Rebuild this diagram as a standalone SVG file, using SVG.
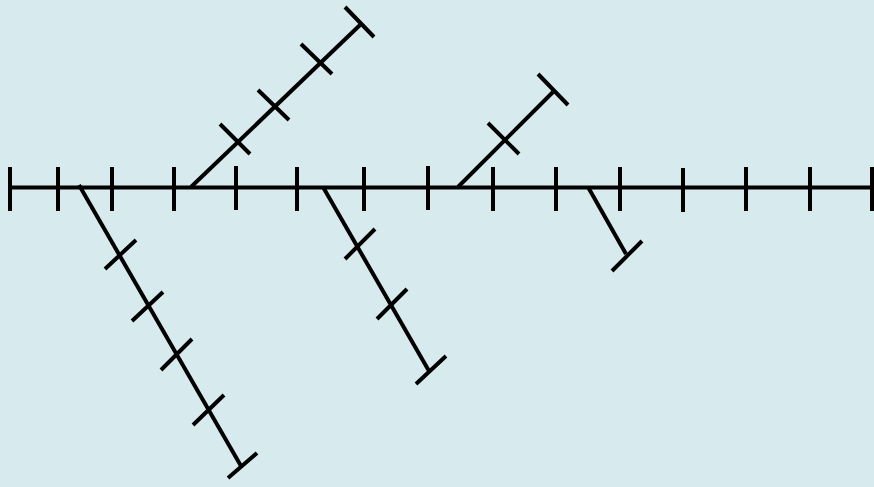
<svg xmlns="http://www.w3.org/2000/svg" width="874" height="487" viewBox="0 0 874 487">
<style>
.l{stroke:#000;stroke-width:4;fill:none;stroke-linecap:butt}
</style>
<rect width="874" height="487" fill="#d7ebee"/>
<g id="main" class="l">
<line x1="9" y1="187.5" x2="874" y2="187.5"/>
<path d="M10 167V211M58 167V211M112 167V211M174 167V211M236 166V210M297 167V211M364 167V211M428 166V210M493 167V211M556 167V211M620 167V211M683 168V212M746 167V211M810 167V211M872 167V211"/>
</g>
<g id="branch-up-1" class="l">
<line x1="191" y1="187" x2="360" y2="25"/>
<path d="M220 124L250 154M258 90L289 120M301 44L332 74M345 7L374 37"/>
</g>
<g id="branch-up-2" class="l">
<line x1="458" y1="187" x2="553" y2="92"/>
<path d="M488 123L519 154M538 74L568 105"/>
</g>
<g id="branch-down-1" class="l">
<line x1="79" y1="185" x2="241" y2="466"/>
<path d="M105 269L136 240M132 321L163 292M161 370L192 339M193 425L224 395M228 478L257 453"/>
</g>
<g id="branch-down-2" class="l">
<line x1="323" y1="187" x2="429" y2="371"/>
<path d="M345 259L375 229M377 319L407 289M416 384L446 356"/>
</g>
<g id="branch-down-3" class="l">
<line x1="588" y1="187" x2="626" y2="254"/>
<path d="M612 271L642 241"/>
</g>
</svg>
